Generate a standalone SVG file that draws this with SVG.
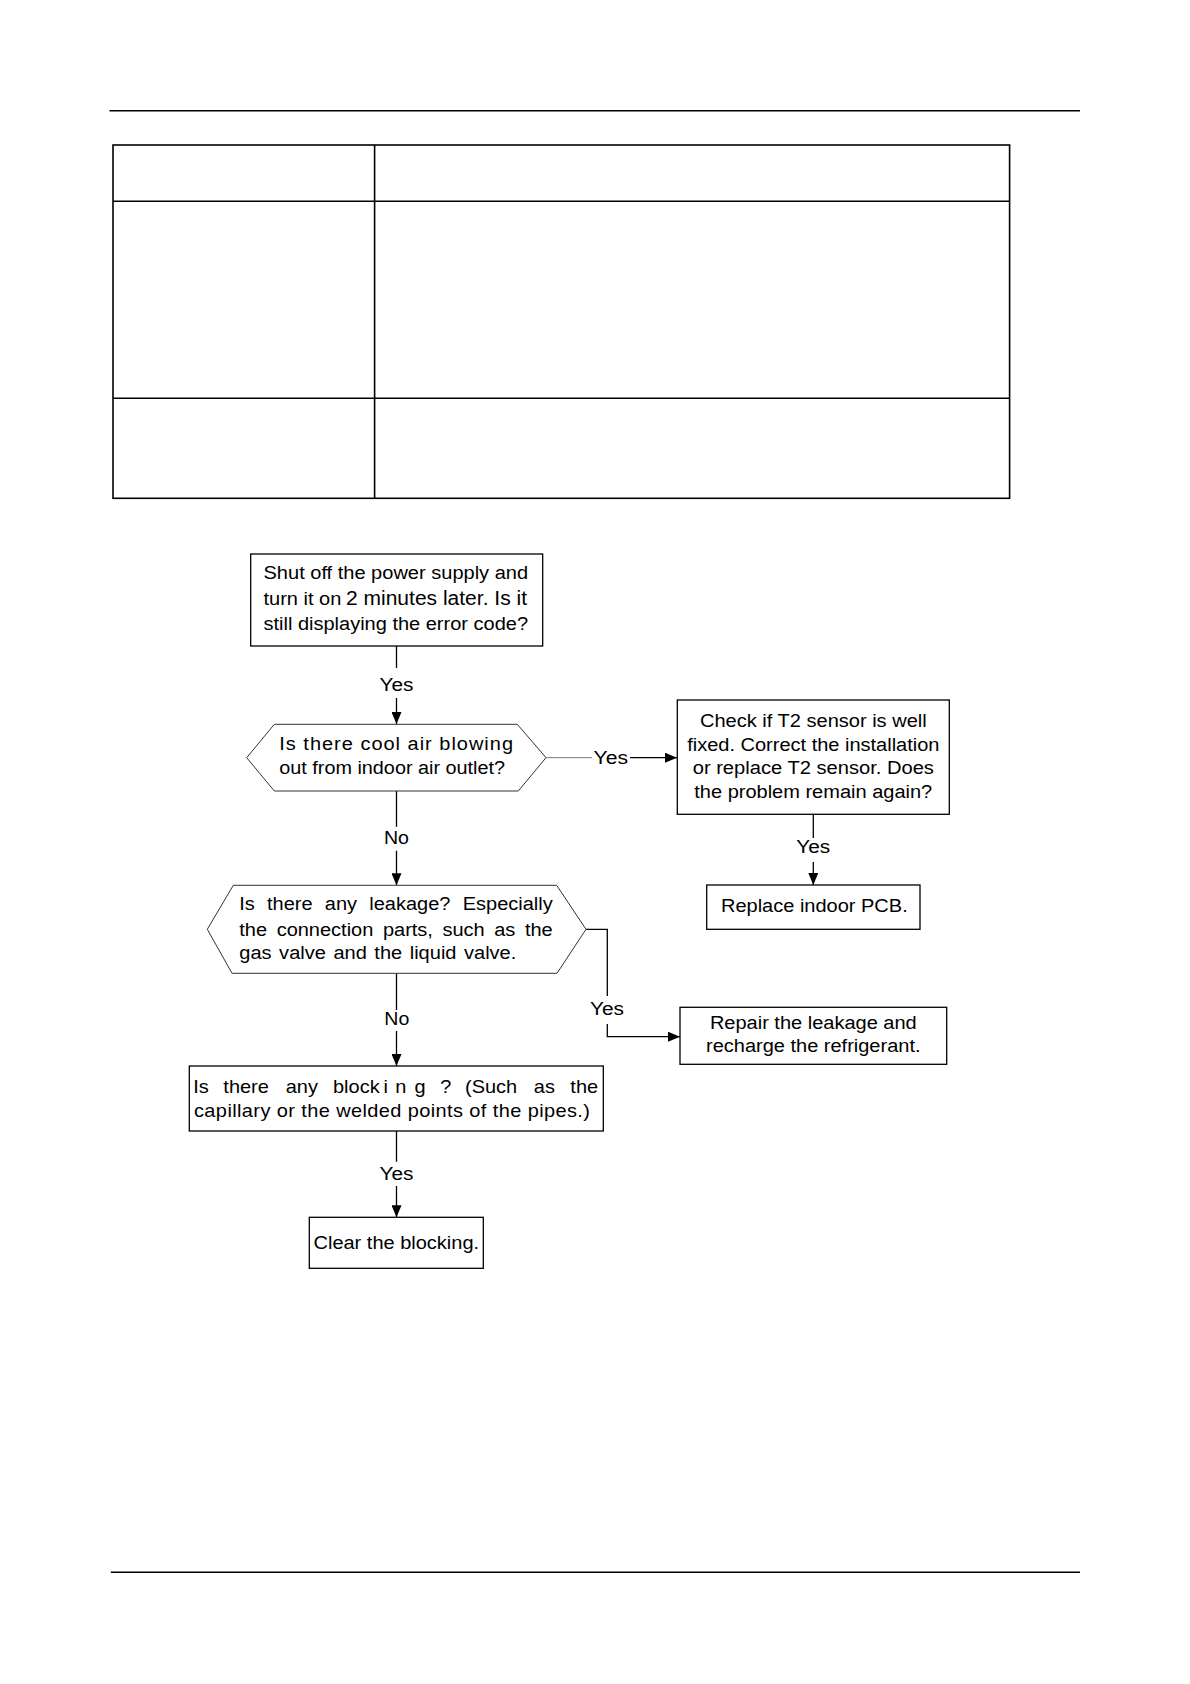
<svg xmlns="http://www.w3.org/2000/svg" width="1190" height="1684" viewBox="0 0 1190 1684">
<style>
.t{font-family:"Liberation Sans",Arial,sans-serif;font-size:18px;fill:#000}
.box{fill:#fff;stroke:#000;stroke-width:1.3}
.hex{fill:#fff;stroke:#333;stroke-width:1}
.conn{fill:none;stroke:#000;stroke-width:1.3}
.gray{fill:none;stroke:#777;stroke-width:1}
.rule{stroke:#000;stroke-width:1.5}
.tbl{fill:none;stroke:#000;stroke-width:1.6}
</style>
<defs>
<marker id="arr" markerUnits="userSpaceOnUse" markerWidth="12" markerHeight="10" refX="12" refY="5" orient="auto">
<path d="M0,0 L12,5 L0,10 Z" fill="#000"/>
</marker>
</defs>
<rect width="1190" height="1684" fill="#fff"/>
<g id="page">
<line class="rule" x1="109.5" y1="110.8" x2="1080" y2="110.8"/>
<line class="rule" x1="110.8" y1="1572.3" x2="1080" y2="1572.3"/>
<rect class="tbl" x="113" y="145" width="896.6" height="353.3"/>
<line class="tbl" x1="374.6" y1="145" x2="374.6" y2="498.3"/>
<line class="tbl" x1="113" y1="201.3" x2="1009.6" y2="201.3"/>
<line class="tbl" x1="113" y1="398.3" x2="1009.6" y2="398.3"/>
</g>
<g id="connectors">
<path class="conn" d="M396.5 646 V668 M396.5 698 V724" marker-end="url(#arr)"/>
<line class="gray" x1="546" y1="757.7" x2="592" y2="757.7"/>
<path class="conn" d="M630 757.7 H677" marker-end="url(#arr)"/>
<path class="conn" d="M813.3 814.3 V838 M813.3 862 V885" marker-end="url(#arr)"/>
<path class="conn" d="M396.5 791 V826.7 M396.5 850.7 V885.3" marker-end="url(#arr)"/>
<path class="conn" d="M586 929.3 H607.3 V996 M607.3 1024 V1036.7 H680" marker-end="url(#arr)"/>
<path class="conn" d="M396.5 973.3 V1010 M396.5 1031 V1066" marker-end="url(#arr)"/>
<path class="conn" d="M396.5 1131 V1161.7 M396.5 1186 V1217.3" marker-end="url(#arr)"/>
<text class="t" x="379.5" y="690.5" textLength="34" lengthAdjust="spacingAndGlyphs">Yes</text>
<text class="t" x="593.5" y="763.5" textLength="34.5" lengthAdjust="spacingAndGlyphs">Yes</text>
<text class="t" x="384" y="843.5" textLength="25" lengthAdjust="spacingAndGlyphs">No</text>
<text class="t" x="796.3" y="853" textLength="34" lengthAdjust="spacingAndGlyphs">Yes</text>
<text class="t" x="384.3" y="1025" textLength="25" lengthAdjust="spacingAndGlyphs">No</text>
<text class="t" x="590" y="1015" textLength="34" lengthAdjust="spacingAndGlyphs">Yes</text>
<text class="t" x="379.5" y="1179.5" textLength="34" lengthAdjust="spacingAndGlyphs">Yes</text>
</g>
<g id="n-power">
<rect class="box" x="250.7" y="554" width="292" height="92"/>
<text class="t" x="263.5" y="579" textLength="264.6" lengthAdjust="spacingAndGlyphs">Shut off the power supply and</text>
<text class="t" y="605"><tspan x="263.5" textLength="77.8" lengthAdjust="spacingAndGlyphs">turn it on</tspan> <tspan x="346" font-size="19.5" textLength="181" lengthAdjust="spacingAndGlyphs">2 minutes later. Is it</tspan></text>
<text class="t" x="263.5" y="630" textLength="264.5" lengthAdjust="spacingAndGlyphs">still displaying the error code?</text>
</g>
<g id="n-coolair">
<polygon class="hex" points="246.7,757.7 274.3,724.3 517.3,724.3 546,757.7 518.3,791 274.3,791"/>
<text class="t" x="279.3" y="750" letter-spacing="0.9" textLength="234.7" lengthAdjust="spacingAndGlyphs">Is there cool air blowing</text>
<text class="t" x="279.3" y="774.3" textLength="225.7" lengthAdjust="spacingAndGlyphs">out from indoor air outlet?</text>
</g>
<g id="n-t2">
<rect class="box" x="677.3" y="700" width="272" height="114.3"/>
<text class="t" x="700" y="727" textLength="226.7" lengthAdjust="spacingAndGlyphs">Check if T2 sensor is well</text>
<text class="t" x="687.2" y="750.5" textLength="252.3" lengthAdjust="spacingAndGlyphs">fixed. Correct the installation</text>
<text class="t" x="692.7" y="774" textLength="241.2" lengthAdjust="spacingAndGlyphs">or replace T2 sensor. Does</text>
<text class="t" x="694.3" y="797.5" textLength="237.9" lengthAdjust="spacingAndGlyphs">the problem remain again?</text>
</g>
<g id="n-pcb">
<rect class="box" x="706.7" y="885" width="213.3" height="44.3"/>
<text class="t" x="721" y="911.5" textLength="186.7" lengthAdjust="spacingAndGlyphs">Replace indoor PCB.</text>
</g>
<g id="n-leak">
<polygon class="hex" points="207.3,929.3 233.3,885.3 556.7,885.3 586,929.3 557,973.3 232,973.3"/>
<text class="t" x="239.3" y="910" word-spacing="6" textLength="313.4" lengthAdjust="spacingAndGlyphs">Is there any leakage? Especially</text>
<text class="t" x="239.3" y="935.5" word-spacing="3.6" textLength="313.4" lengthAdjust="spacingAndGlyphs">the connection parts, such as the</text>
<text class="t" x="239.3" y="959" word-spacing="1.8" textLength="277" lengthAdjust="spacingAndGlyphs">gas valve and the liquid valve.</text>
</g>
<g id="n-repair">
<rect class="box" x="680" y="1007.3" width="266.7" height="57"/>
<text class="t" x="709.9" y="1028.5" textLength="206.8" lengthAdjust="spacingAndGlyphs">Repair the leakage and</text>
<text class="t" x="706" y="1052" textLength="214.5" lengthAdjust="spacingAndGlyphs">recharge the refrigerant.</text>
</g>
<g id="n-block">
<rect class="box" x="189.3" y="1066" width="414" height="65"/>
<text class="t" transform="scale(1.1111,1)" y="1092.7"><tspan x="174">Is</tspan> <tspan x="201">there</tspan> <tspan x="257.1">any</tspan> <tspan x="299.7">block</tspan> <tspan x="345.1">i</tspan> <tspan x="355.7">n</tspan> <tspan x="373.1">g</tspan> <tspan x="396.3">?</tspan> <tspan x="418.5">(Such</tspan> <tspan x="480.4">as</tspan> <tspan x="513.3">the</tspan></text>
<text class="t" transform="scale(1.1111,1)" x="174.6" y="1116.7" textLength="356.4" lengthAdjust="spacing">capillary or the welded points of the pipes.)</text>
</g>
<g id="n-clear">
<rect class="box" x="309.3" y="1217.3" width="174" height="51"/>
<text class="t" x="313.5" y="1249.3" textLength="165.6" lengthAdjust="spacingAndGlyphs">Clear the blocking.</text>
</g>
</svg>
